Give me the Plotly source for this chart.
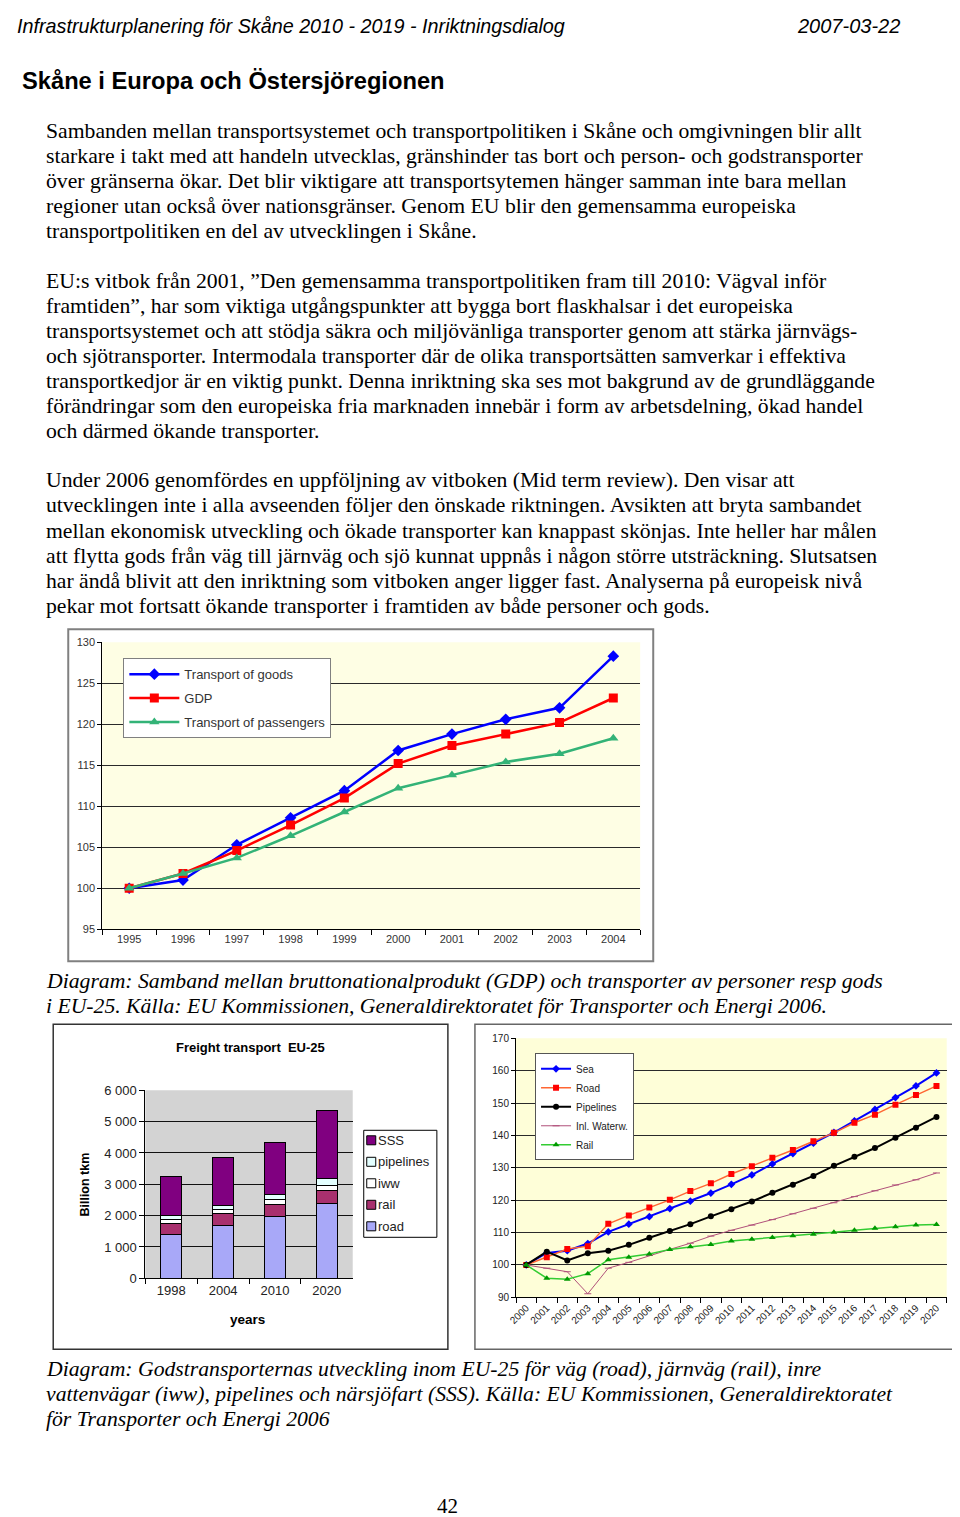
import plotly.graph_objects as go

# figure size; the photographed page shows the figure slightly offset/scaled,
# so reference pixel positions are converted through S (scale) and O (offset)
W, H = 960, 1517
S, O = 0.99, 16.0

# ---------------- text content ----------------
header_left = "Infrastrukturplanering för Skåne 2010 - 2019 - Inriktningsdialog"
header_right = "2007-03-22"
section_title = "Skåne i Europa och Östersjöregionen"
para1 = [
    "Sambanden mellan transportsystemet och transportpolitiken i Skåne och omgivningen blir allt",
    "starkare i takt med att handeln utvecklas, gränshinder tas bort och person- och godstransporter",
    "över gränserna ökar. Det blir viktigare att transportsytemen hänger samman inte bara mellan",
    "regioner utan också över nationsgränser. Genom EU blir den gemensamma europeiska",
    "transportpolitiken en del av utvecklingen i Skåne.",
]
para2 = [
    "EU:s vitbok från 2001, ”Den gemensamma transportpolitiken fram till 2010: Vägval inför",
    "framtiden”, har som viktiga utgångspunkter att bygga bort flaskhalsar i det europeiska",
    "transportsystemet och att stödja säkra och miljövänliga transporter genom att stärka järnvägs-",
    "och sjötransporter. Intermodala transporter där de olika transportsätten samverkar i effektiva",
    "transportkedjor är en viktig punkt. Denna inriktning ska ses mot bakgrund av de grundläggande",
    "förändringar som den europeiska fria marknaden innebär i form av arbetsdelning, ökad handel",
    "och därmed ökande transporter.",
]
para3 = [
    "Under 2006 genomfördes en uppföljning av vitboken (Mid term review). Den visar att",
    "utvecklingen inte i alla avseenden följer den önskade riktningen. Avsikten att bryta sambandet",
    "mellan ekonomisk utveckling och ökade transporter kan knappast skönjas. Inte heller har målen",
    "att flytta gods från väg till järnväg och sjö kunnat uppnås i någon större utsträckning. Slutsatsen",
    "har ändå blivit att den inriktning som vitboken anger ligger fast. Analyserna på europeisk nivå",
    "pekar mot fortsatt ökande transporter i framtiden av både personer och gods.",
]
caption1 = [
    "Diagram: Samband mellan bruttonationalprodukt (GDP) och transporter av personer resp gods",
    "i EU-25. Källa: EU Kommissionen, Generaldirektoratet för Transporter och Energi 2006.",
]
caption2 = [
    "Diagram: Godstransporternas utveckling inom EU-25 för väg (road), järnväg (rail), inre",
    "vattenvägar (iww), pipelines och närsjöfart (SSS). Källa: EU Kommissionen, Generaldirektoratet",
    "för Transporter och Energi 2006",
]
page_no = "42"

# ---------------- chart 1 data ----------------
years1 = ["1995", "1996", "1997", "1998", "1999", "2000", "2001", "2002", "2003", "2004"]
goods = [100, 101.0, 105.3, 108.6, 111.9, 116.8, 118.8, 120.6, 122.0, 128.3]
gdp = [100, 101.8, 104.6, 107.7, 111.0, 115.2, 117.4, 118.8, 120.2, 123.2]
passengers = [100, 101.8, 103.7, 106.4, 109.3, 112.2, 113.8, 115.4, 116.4, 118.3]
y1_ticks = [95, 100, 105, 110, 115, 120, 125, 130]

# ---------------- chart 2 data ----------------
freight_title = "Freight transport  EU-25"
freight_ytitle = "Billion tkm"
freight_xtitle = "years"
freight_years = ["1998", "2004", "2010", "2020"]
road = [1400, 1680, 1960, 2400]
rail = [350, 380, 390, 410]
iww = [130, 140, 150, 150]
pipelines = [130, 130, 160, 240]
sss = [1240, 1520, 1670, 2170]
y2_tickvals = [0, 1000, 2000, 3000, 4000, 5000, 6000]
y2_ticktext = ["0", "1 000", "2 000", "3 000", "4 000", "5 000", "6 000"]

# ---------------- chart 3 data ----------------
years3 = [str(y) for y in range(2000, 2021)]
sea = [100, 103.7, 104.4, 106.6, 110.2, 112.6, 114.9, 117.4, 119.7, 122.2, 124.9,
       127.8, 131.2, 134.4, 137.6, 140.9, 144.5, 148.0, 151.7, 155.3, 159.3]
road3 = [100, 102.4, 104.9, 105.8, 112.7, 115.3, 117.7, 120.1, 122.8, 125.2, 128.1,
         130.5, 133.1, 135.5, 138.2, 140.8, 143.9, 146.4, 149.5, 152.5, 155.3]
pipes3 = [100, 104.1, 101.4, 103.6, 104.4, 106.2, 108.4, 110.5, 112.6, 115.0, 117.2,
          119.6, 122.3, 124.8, 127.5, 130.6, 133.4, 136.1, 139.3, 142.4, 145.7]
inlw3 = [100, 99.0, 97.9, 91.1, 99.0, 100.8, 102.9, 104.8, 106.7, 108.9, 110.7,
         112.3, 114.0, 115.8, 117.5, 119.2, 121.1, 122.9, 124.7, 126.3, 128.4]
rail3 = [100, 95.9, 95.6, 97.3, 101.6, 102.4, 103.4, 104.8, 105.6, 106.3, 107.4,
         107.9, 108.5, 109.0, 109.5, 110.1, 110.7, 111.3, 111.8, 112.3, 112.5]


def fx(xp):
    return xp / S - O


def fy(yp):
    return yp / S - O


def px(xp):
    return fx(xp) / W


def py(yp):
    return 1 - fy(yp) / H


SANS = "Arial, Liberation Sans, sans-serif"
SERIF = "Times New Roman, Liberation Serif, serif"

fig = go.Figure()

# ---- chart 1 traces ----
fig.add_trace(go.Scatter(x=years1, y=goods, name="Transport of goods", mode="lines+markers",
                         line=dict(color="#0000FF", width=2.5),
                         marker=dict(symbol="diamond", size=9, color="#0000FF"),
                         xaxis="x", yaxis="y", legend="legend", legendgroup="g1"))
fig.add_trace(go.Scatter(x=years1, y=gdp, name="GDP", mode="lines+markers",
                         line=dict(color="#FF0000", width=2.5),
                         marker=dict(symbol="square", size=9, color="#FF0000"),
                         xaxis="x", yaxis="y", legend="legend", legendgroup="g2"))
fig.add_trace(go.Scatter(x=years1, y=passengers, name="Transport of passengers", mode="lines+markers",
                         line=dict(color="#33B377", width=2.5),
                         marker=dict(symbol="triangle-up", size=9, color="#33B377"),
                         xaxis="x", yaxis="y", legend="legend", legendgroup="g3"))

# ---- chart 2 traces ----
bar_specs = [("road", road, "#A8A8F8"), ("rail", rail, "#A8306E"), ("iww", iww, "#FFFFFF"),
             ("pipelines", pipelines, "#E4FFFF"), ("SSS", sss, "#800080")]
for name, vals, col in bar_specs:
    fig.add_trace(go.Bar(x=freight_years, y=vals, name=name, width=0.4,
                         marker=dict(color=col, line=dict(color="#000000", width=1)),
                         xaxis="x2", yaxis="y2", showlegend=False))

# ---- chart 3 traces ----
fig.add_trace(go.Scatter(x=years3, y=sea, name="Sea", mode="lines+markers",
                         line=dict(color="#0000FF", width=2),
                         marker=dict(symbol="diamond", size=6, color="#0000FF"),
                         xaxis="x3", yaxis="y3", legend="legend3"))
fig.add_trace(go.Scatter(x=years3, y=road3, name="Road", mode="lines+markers",
                         line=dict(color="#FF6633", width=1.5),
                         marker=dict(symbol="square", size=6, color="#FF0000"),
                         xaxis="x3", yaxis="y3", legend="legend3"))
fig.add_trace(go.Scatter(x=years3, y=pipes3, name="Pipelines", mode="lines+markers",
                         line=dict(color="#000000", width=2),
                         marker=dict(symbol="circle", size=6, color="#000000"),
                         xaxis="x3", yaxis="y3", legend="legend3"))
fig.add_trace(go.Scatter(x=years3, y=inlw3, name="Inl. Waterw.", mode="lines+markers",
                         line=dict(color="#B0507A", width=1),
                         marker=dict(symbol="line-ew", size=5, color="#B0507A",
                                     line=dict(color="#B0507A", width=1)),
                         xaxis="x3", yaxis="y3", legend="legend3"))
fig.add_trace(go.Scatter(x=years3, y=rail3, name="Rail", mode="lines+markers",
                         line=dict(color="#33CC33", width=1.5),
                         marker=dict(symbol="triangle-up", size=6, color="#009900"),
                         xaxis="x3", yaxis="y3", legend="legend3"))

tick1 = dict(family=SANS, size=11, color="#333333")
tick3 = dict(family=SANS, size=10, color="#222222")

fig.update_layout(
    width=W, height=H,
    margin=dict(l=0, r=0, t=0, b=0),
    paper_bgcolor="white",
    plot_bgcolor="rgba(0,0,0,0)",
    barmode="stack",
    showlegend=True,
    xaxis=dict(domain=[px(102), px(639)], anchor="y", type="category", range=[-0.5, 9.5],
               tickson="boundaries", ticks="outside", ticklen=5, tickcolor="#000",
               showline=True, linecolor="#000", linewidth=1, showgrid=False,
               tickfont=tick1, fixedrange=True),
    yaxis=dict(domain=[py(930), py(643)], anchor="x", range=[95, 130], tickvals=y1_ticks,
               showgrid=True, gridcolor="#2a2a2a", gridwidth=1, zeroline=False,
               showline=True, linecolor="#000", ticks="outside", ticklen=4, tickcolor="#000",
               tickfont=tick1, fixedrange=True),
    xaxis2=dict(domain=[px(145), px(352)], anchor="y2", type="category", range=[-0.5, 3.5],
                tickson="boundaries", ticks="outside", ticklen=5, tickcolor="#000",
                showline=True, linecolor="#000", showgrid=False,
                tickfont=dict(family=SANS, size=13, color="#222"), fixedrange=True),
    yaxis2=dict(domain=[py(1279), py(1091)], anchor="x2", range=[0, 6000],
                tickvals=y2_tickvals, ticktext=y2_ticktext,
                showgrid=True, gridcolor="#111", gridwidth=1, zeroline=False,
                showline=True, linecolor="#000", ticks="outside", ticklen=5, tickcolor="#000",
                tickfont=dict(family=SANS, size=13, color="#222"), fixedrange=True),
    xaxis3=dict(domain=[px(515), px(945)], anchor="y3", type="category", range=[-0.5, 20.5],
                tickson="boundaries", ticks="outside", ticklen=5, tickcolor="#000",
                showline=True, linecolor="#000", showgrid=False, tickangle=-45,
                tickfont=tick3, fixedrange=True),
    yaxis3=dict(domain=[py(1298), py(1039)], anchor="x3", range=[90, 170], dtick=10,
                showgrid=True, gridcolor="#2a2a2a", gridwidth=1, zeroline=False,
                showline=True, linecolor="#000", ticks="outside", ticklen=4, tickcolor="#000",
                tickfont=tick3, fixedrange=True),
    legend=dict(x=px(123), y=py(659), xanchor="left", yanchor="top",
                bgcolor="white", bordercolor="#808080", borderwidth=1,
                font=dict(family=SANS, size=13, color="#333"), itemwidth=50,
                traceorder="grouped", tracegroupgap=4),
    legend3=dict(x=px(534), y=py(1054), xanchor="left", yanchor="top",
                 bgcolor="white", bordercolor="#555", borderwidth=1,
                 font=dict(family=SANS, size=10, color="#222"), itemwidth=30),
)

shapes = []
# plot backgrounds
shapes.append(dict(type="rect", xref="x domain", yref="y domain", x0=0, x1=1, y0=0, y1=1,
                   fillcolor="#FEFEE4", line=dict(width=0), layer="below"))
shapes.append(dict(type="rect", xref="x2 domain", yref="y2 domain", x0=0, x1=1, y0=0, y1=1,
                   fillcolor="#D3D3D3", line=dict(width=0), layer="below"))
shapes.append(dict(type="rect", xref="x3 domain", yref="y3 domain", x0=0, x1=1, y0=0, y1=1,
                   fillcolor="#FEFED8", line=dict(width=0), layer="below"))
# chart borders
shapes.append(dict(type="rect", xref="paper", yref="paper", x0=px(68), x1=px(652), y0=py(962), y1=py(630),
                   line=dict(color="#808080", width=2), fillcolor="rgba(0,0,0,0)", layer="below"))
shapes.append(dict(type="rect", xref="paper", yref="paper", x0=px(53), x1=px(447), y0=py(1350), y1=py(1025),
                   line=dict(color="#333333", width=1.5), fillcolor="rgba(0,0,0,0)", layer="below"))
shapes.append(dict(type="rect", xref="paper", yref="paper", x0=px(474), x1=px(955), y0=py(1350), y1=py(1025),
                   line=dict(color="#666666", width=1.5), fillcolor="rgba(0,0,0,0)", layer="below"))

ann = []


def add_text(txt, x, y, size, family, color="#000", xanchor="left", italic=False, bold=False,
             textangle=0, fxx=None, fyy=None):
    t = txt
    if bold:
        t = "<b>" + t + "</b>"
    if italic:
        t = "<i>" + t + "</i>"
    xx = fx(x) if fxx is None else fxx
    if fxx is None:
        if xanchor == "left":
            xx -= 3
        elif xanchor == "right":
            xx += 3
    yy = py(y) if fyy is None else 1 - fyy / H
    ann.append(dict(text=t, x=xx / W, y=yy, xref="paper", yref="paper", showarrow=False,
                    xanchor=xanchor, yanchor="middle", textangle=textangle,
                    font=dict(family=family, size=size, color=color)))


# chart 2 legend (box, swatches and labels), top item = last stacked series
shapes.append(dict(type="rect", xref="paper", yref="paper", x0=px(363), x1=px(436), y0=py(1238), y1=py(1131),
                   line=dict(color="#000", width=1), fillcolor="white"))
for i, (name, vals, col) in enumerate(reversed(bar_specs)):
    yc = 1141 + 21.5 * i
    shapes.append(dict(type="rect", xref="paper", yref="paper", x0=px(366), x1=px(375),
                       y0=py(yc + 4.5), y1=py(yc - 4.5), line=dict(color="#000", width=1), fillcolor=col))
    add_text(name, 378, yc, 13, SANS, color="#222")

fig.update_layout(shapes=shapes)

# page header (kept inside the figure's top edge so it is not clipped)
add_text(header_left, 1, 11, 19.75, SANS, italic=True, fxx=-1, fyy=11)
add_text(header_right, 897, 11, 20, SANS, italic=True, xanchor="right", fyy=11)
add_text(section_title, 23, 82, 23.7, SANS, bold=True)

SER = 21.7
for i, line in enumerate(para1):
    add_text(line, 47, 132 + 25 * i, SER, SERIF)
for i, line in enumerate(para2):
    add_text(line, 47, 282 + 25 * i, SER, SERIF)
for i, line in enumerate(para3):
    add_text(line, 47, 481 + 25.2 * i, SER, SERIF)
for i, line in enumerate(caption1):
    add_text(line, 47, 982 + 24.5 * i, SER, SERIF, italic=True)
for i, line in enumerate(caption2):
    add_text(line, 47, 1370 + 25 * i, SER, SERIF, italic=True)
add_text(page_no, 447, 1507, 21, SERIF, xanchor="center")

# chart 2 titles
add_text(freight_title, 250, 1048, 13, SANS, bold=True, xanchor="center")
add_text(freight_ytitle, 85, 1185, 12.5, SANS, bold=True, xanchor="center", textangle=-90)
add_text(freight_xtitle, 247, 1320, 13.5, SANS, bold=True, xanchor="center")

fig.update_layout(annotations=ann)

fig.write_html("out.html")
